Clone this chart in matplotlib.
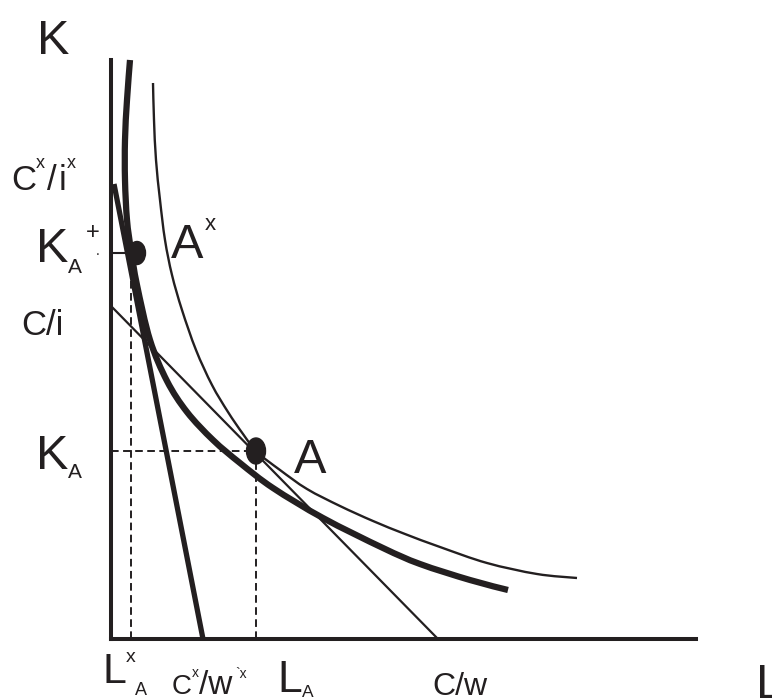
import matplotlib
matplotlib.use("Agg")
import matplotlib.pyplot as plt
from matplotlib.patches import Ellipse, PathPatch
from matplotlib.path import Path

# ---------------- data (L, K units) ----------------
thick_iso_L = [0.38, 0.32, 0.28, 0.28, 0.32, 0.40, 0.52, 0.78, 1.12, 1.52,
               2.04, 2.58, 3.24, 4.24, 5.44, 6.18, 7.18, 7.94]
thick_iso_K = [11.58, 10.78, 9.98, 9.18, 8.38, 7.78, 7.08, 5.98, 5.16, 4.54,
               3.98, 3.52, 3.02, 2.42, 1.82, 1.50, 1.18, 0.98]

thin_iso_L = [0.84, 0.86, 0.90, 0.98, 1.08, 1.22, 1.42, 1.70, 2.02, 2.34, 2.64,
              2.92, 3.38, 3.92, 4.58, 5.24, 5.88, 6.58, 7.52, 8.52, 9.32]
thin_iso_K = [11.12, 10.38, 9.58, 8.78, 7.98, 7.28, 6.58, 5.78, 5.08, 4.54, 4.10,
              3.74, 3.38, 3.00, 2.66, 2.36, 2.10, 1.84, 1.52, 1.30, 1.22]

isocost_L = [0.0, 6.54]          # C/i  -> C/w
isocost_K = [6.66, 0.0]
isocost_x_L = [0.06, 1.84]       # C^x/i^x -> C^x/w^x
isocost_x_K = [9.10, 0.0]

point_A = (2.90, 3.76)
point_Ax = (0.52, 7.72)
LAx_dash = 0.40                  # L^x_A

# ---------------- figure ----------------
W, H = 772, 698
C = "#231f20"
FONT = "Liberation Sans"
plt.rcParams["lines.scale_dashes"] = False

fig = plt.figure(figsize=(W / 100, H / 100), dpi=100)
ox, oy, xr, yt = 111, 639, 696, 60
ax = fig.add_axes([ox / W, (H - oy) / H, (xr - ox) / W, (oy - yt) / H])
ax.set_xlim(0, (xr - ox) / 50)
ax.set_ylim(0, (oy - yt) / 50)
ax.patch.set_visible(False)
for s in ("top", "right"):
    ax.spines[s].set_visible(False)
for s in ("left", "bottom"):
    ax.spines[s].set_linewidth(2.9)
    ax.spines[s].set_color(C)
ax.set_xticks([])
ax.set_yticks([])


def smooth_curve(xs, ys, lw):
    """Smooth path through the read points (Catmull-Rom as cubic Beziers)."""
    pts = list(zip(xs, ys))
    verts = [pts[0]]
    codes = [Path.MOVETO]
    n = len(pts)
    for i in range(n - 1):
        p0 = pts[i - 1] if i > 0 else pts[i]
        p1 = pts[i]
        p2 = pts[i + 1]
        p3 = pts[i + 2] if i + 2 < n else pts[i + 1]
        c1 = (p1[0] + (p2[0] - p0[0]) / 6, p1[1] + (p2[1] - p0[1]) / 6)
        c2 = (p2[0] - (p3[0] - p1[0]) / 6, p2[1] - (p3[1] - p1[1]) / 6)
        verts += [c1, c2, p2]
        codes += [Path.CURVE4] * 3
    patch = PathPatch(Path(verts, codes), fill=False, edgecolor=C, lw=lw,
                      capstyle="butt", joinstyle="round", clip_on=False)
    ax.add_patch(patch)


# dashed / guide lines
dash = dict(color=C, lw=1.4, dashes=(5.5, 3.2), clip_on=False)
ax.plot([0, point_A[0]], [point_A[1], point_A[1]], **dash)
ax.plot([point_A[0], point_A[0]], [0, point_A[1]], **dash)
ax.plot([LAx_dash, LAx_dash], [0, point_Ax[1]], **dash)
ax.plot([0, point_Ax[0]], [point_Ax[1], point_Ax[1]], color=C, lw=1.5, clip_on=False)

# isocost lines
ax.plot(isocost_L, isocost_K, color=C, lw=1.6, clip_on=False)
ax.plot(isocost_x_L, isocost_x_K, color=C, lw=3.8, solid_capstyle="butt", clip_on=False)

# isoquants
smooth_curve(thin_iso_L, thin_iso_K, 1.7)
smooth_curve(thick_iso_L, thick_iso_K, 4.5)

# points
ax.add_patch(Ellipse(point_A, 0.38, 0.52, color=C, zorder=5, clip_on=False))
ax.add_patch(Ellipse(point_Ax, 0.34, 0.46, color=C, zorder=5, clip_on=False))


def label(x, y, s, size):
    fig.text(x / W, 1 - y / H, s, fontsize=size, ha="left", va="baseline",
             family=FONT, color=C)


# axis titles
label(37, 54, "K", 35)
label(756, 698, "L", 35)

# vertical-axis labels
label(11, 190, "C", 25)
label(36, 168, "x", 13)
label(47, 190, "/", 25)
label(59, 190, "i", 25)
label(67, 168, "x", 13)

label(36, 262, "K", 35)
label(68, 273, "A", 15)
label(86, 239, "+", 17)
label(96, 255, ".", 10)

label(21, 335, "C/i", 25)

label(36, 469, "K", 35)
label(68, 478, "A", 15)

# point labels
label(171, 258, "A", 35)
label(205, 230, "x", 16)
label(294, 473, "A", 35)

# horizontal-axis labels
label(102, 683, "L", 31)
label(126, 662, "x", 14)
label(135, 695, "A", 13)

label(172, 694, "C", 20)
label(192, 677, "x", 10)
label(199, 694, "/w", 24)
label(235, 678, "`x", 10)

label(277, 692, "L", 32)
label(302, 697, "A", 12.5)

label(432, 695, "C/w", 23)

fig.savefig("out.png", dpi=100)
